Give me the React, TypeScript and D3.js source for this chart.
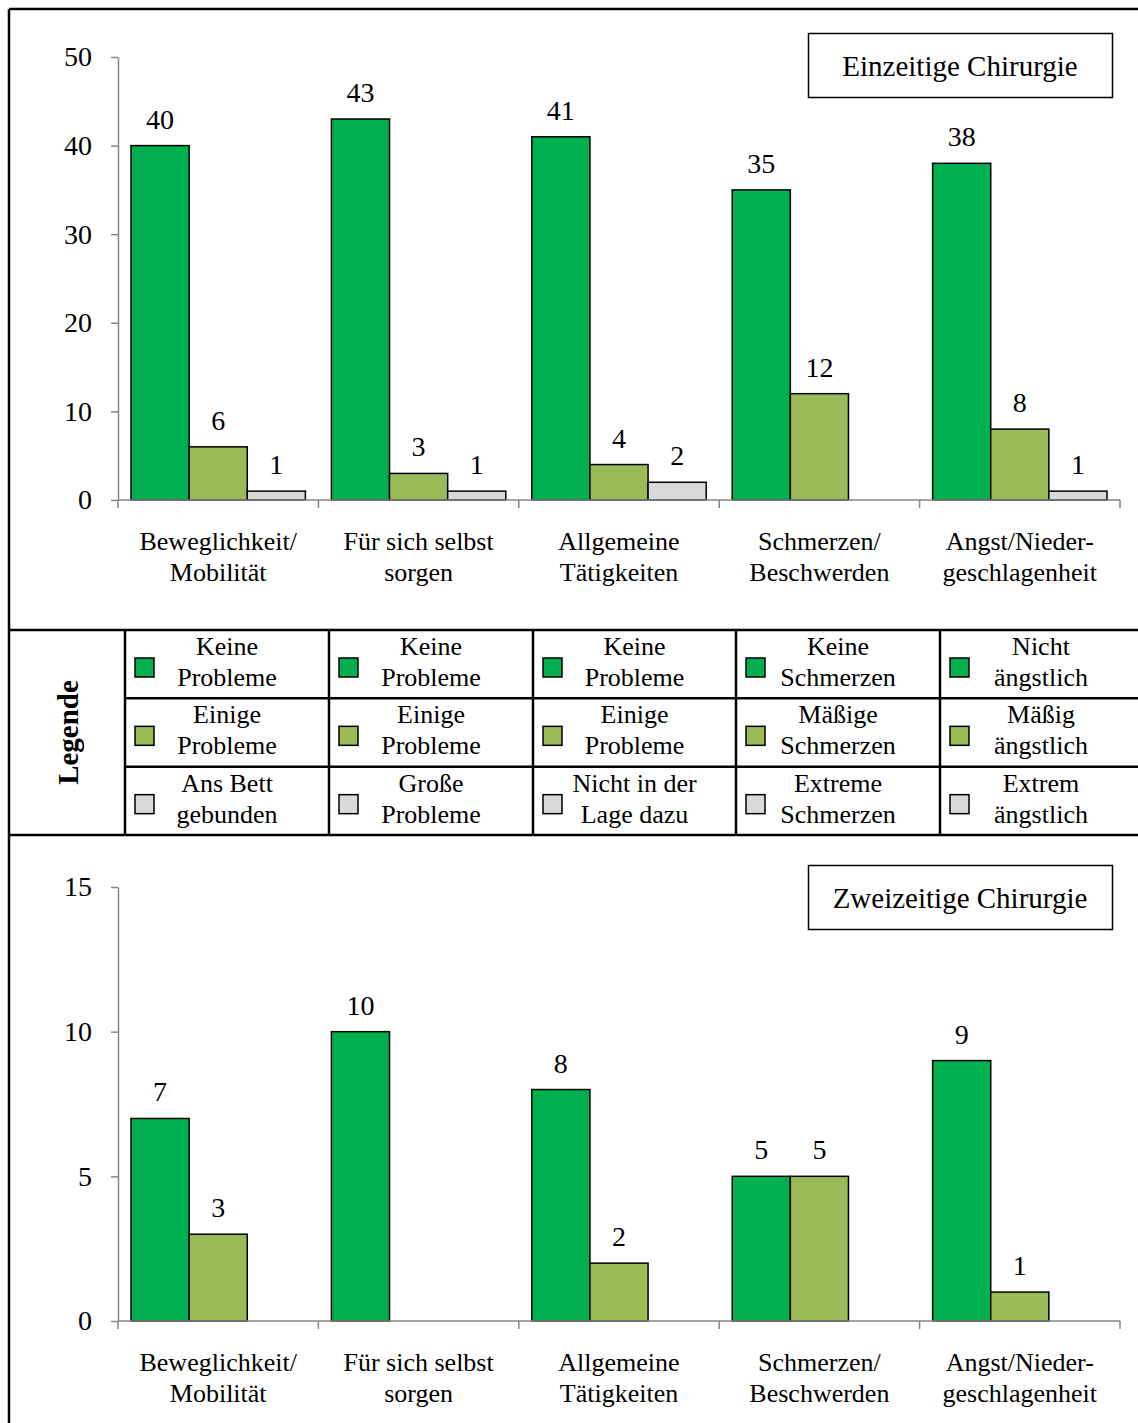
import React, { useEffect, useRef } from "react";
import * as d3 from "d3";

const categories = [
  ["Beweglichkeit/", "Mobilität"],
  ["Für sich selbst", "sorgen"],
  ["Allgemeine", "Tätigkeiten"],
  ["Schmerzen/", "Beschwerden"],
  ["Angst/Nieder-", "geschlagenheit"],
];
const seriesKeys = ["keine", "einige", "extrem"];
const seriesColors = ["#00B050", "#9BBB59", "#D9D9D9"];

// Einzeitige Chirurgie
const topKeine = [40, 43, 41, 35, 38];
const topEinige = [6, 3, 4, 12, 8];
const topExtrem = [1, 1, 2, 0, 1];
const topTicks = [0, 10, 20, 30, 40, 50];

// Zweizeitige Chirurgie
const bottomKeine = [7, 10, 8, 5, 9];
const bottomEinige = [3, 0, 2, 5, 1];
const bottomExtrem = [0, 0, 0, 0, 0];
const bottomTicks = [0, 5, 10, 15];

const legendRows = [
  [["Keine", "Probleme"], ["Keine", "Probleme"], ["Keine", "Probleme"], ["Keine", "Schmerzen"], ["Nicht", "ängstlich"]],
  [["Einige", "Probleme"], ["Einige", "Probleme"], ["Einige", "Probleme"], ["Mäßige", "Schmerzen"], ["Mäßig", "ängstlich"]],
  [["Ans Bett", "gebunden"], ["Große", "Probleme"], ["Nicht in der", "Lage dazu"], ["Extreme", "Schmerzen"], ["Extrem", "ängstlich"]],
];

const W = 1138;
const H = 1423;
const FONT = "'Liberation Serif', 'Times New Roman', serif";
const AXIS = "#868686";

const drawPanel = (svg, opts) => {
  const { values, ticks, yTop, yBottom, title, titleY } = opts;
  const g = svg.append("g");

  const x = d3
    .scaleBand()
    .domain(categories.map((d, i) => i))
    .range([118, 1120]);

  const x1 = d3
    .scaleBand()
    .domain(seriesKeys)
    .range([13, x.bandwidth() - 13]);

  const y = d3
    .scaleLinear()
    .domain([0, d3.max(ticks)])
    .range([yBottom, yTop]);

  // y axis
  const yAxis = d3.axisLeft(y).tickValues(ticks).tickSize(7).tickSizeOuter(0).tickPadding(19);
  const ya = g.append("g").attr("transform", `translate(118,0)`).call(yAxis);
  ya.select(".domain").attr("stroke", AXIS).attr("stroke-width", 1.5);
  ya.selectAll(".tick line").attr("stroke", AXIS).attr("stroke-width", 1.5);
  ya.selectAll(".tick text")
    .attr("fill", "#000")
    .style("font-family", FONT)
    .style("font-size", "28px");

  // bars
  const rows = [];
  values.forEach((arr, s) =>
    arr.forEach((v, c) => rows.push({ c, s, v }))
  );

  g.selectAll("rect.bar")
    .data(rows.filter((d) => d.v > 0))
    .join("rect")
    .attr("class", "bar")
    .attr("x", (d) => x(d.c) + x1(seriesKeys[d.s]))
    .attr("y", (d) => y(d.v))
    .attr("width", x1.bandwidth())
    .attr("height", (d) => y(0) - y(d.v))
    .attr("fill", (d) => seriesColors[d.s])
    .attr("stroke", "#000")
    .attr("stroke-width", 1.5);

  g.selectAll("text.val")
    .data(rows.filter((d) => d.v > 0))
    .join("text")
    .attr("class", "val")
    .attr("x", (d) => x(d.c) + x1(seriesKeys[d.s]) + x1.bandwidth() / 2)
    .attr("y", (d) => y(d.v) - 17)
    .attr("text-anchor", "middle")
    .style("font-family", FONT)
    .style("font-size", "28px")
    .text((d) => d.v);

  // x axis (ticks between categories)
  const bounds = categories.map((d, i) => x(i)).concat([x.range()[1]]);
  g.append("line")
    .attr("x1", x.range()[0])
    .attr("x2", x.range()[1])
    .attr("y1", y(0))
    .attr("y2", y(0))
    .attr("stroke", AXIS)
    .attr("stroke-width", 1.5);
  g.selectAll("line.xt")
    .data(bounds)
    .join("line")
    .attr("class", "xt")
    .attr("x1", (d) => d)
    .attr("x2", (d) => d)
    .attr("y1", y(0))
    .attr("y2", y(0) + 8)
    .attr("stroke", AXIS)
    .attr("stroke-width", 1.5);

  const lab = g
    .selectAll("text.cat")
    .data(categories)
    .join("text")
    .attr("class", "cat")
    .attr("text-anchor", "middle")
    .style("font-family", FONT)
    .style("font-size", "26px");
  lab.each(function (d, i) {
    d3.select(this)
      .selectAll("tspan")
      .data(d)
      .join("tspan")
      .attr("x", x(i) + x.bandwidth() / 2)
      .attr("y", (t, j) => y(0) + 50 + j * 31)
      .text((t) => t);
  });

  // title box
  g.append("rect")
    .attr("x", 808.5)
    .attr("y", titleY)
    .attr("width", 304)
    .attr("height", 64)
    .attr("fill", "#fff")
    .attr("stroke", "#000")
    .attr("stroke-width", 1.5);
  g.append("text")
    .attr("x", 960)
    .attr("y", titleY + 42)
    .attr("text-anchor", "middle")
    .style("font-family", FONT)
    .style("font-size", "29px")
    .text(title);
};

const drawLegend = (svg) => {
  const g = svg.append("g");
  const top = 630;
  const bottom = 835;
  const colBounds = [125, 329, 533, 736, 940, 1142];
  const rowY = d3.scaleBand().domain(legendRows.map((d, i) => i)).range([top, bottom]);

  // grid
  [top, bottom].forEach((yy) =>
    g.append("line").attr("x1", 9).attr("x2", W).attr("y1", yy).attr("y2", yy)
      .attr("stroke", "#000").attr("stroke-width", 2.5)
  );
  [1, 2].forEach((r) =>
    g.append("line").attr("x1", 125).attr("x2", W).attr("y1", rowY(r)).attr("y2", rowY(r))
      .attr("stroke", "#000").attr("stroke-width", 2.5)
  );
  colBounds.slice(0, 5).forEach((xx) =>
    g.append("line").attr("x1", xx).attr("x2", xx).attr("y1", top).attr("y2", bottom)
      .attr("stroke", "#000").attr("stroke-width", 2.5)
  );

  g.append("text")
    .attr("transform", `translate(78, ${(top + bottom) / 2}) rotate(-90)`)
    .attr("text-anchor", "middle")
    .style("font-family", FONT)
    .style("font-size", "29px")
    .style("font-weight", "bold")
    .text("Legende");

  legendRows.forEach((row, r) => {
    row.forEach((cell, c) => {
      const left = colBounds[c];
      const cx = (colBounds[c] + colBounds[c + 1]) / 2;
      const ry = rowY(r);
      g.append("rect")
        .attr("x", left + 10)
        .attr("y", ry + 28)
        .attr("width", 19)
        .attr("height", 19)
        .attr("fill", seriesColors[r])
        .attr("stroke", "#000")
        .attr("stroke-width", 1.5);
      const t = g.append("text")
        .attr("text-anchor", "middle")
        .style("font-family", FONT)
        .style("font-size", "26px");
      cell.forEach((line, j) =>
        t.append("tspan").attr("x", cx).attr("y", ry + 25 + j * 31).text(line)
      );
    });
  });
};

const App = () => {
  const ref = useRef(null);

  useEffect(() => {
    const svg = d3.select(ref.current);
    svg.selectAll("*").remove();

    svg.append("rect").attr("width", W).attr("height", H).attr("fill", "#fff");

    // outer frame (right / bottom cut off)
    svg.append("line").attr("x1", 9).attr("x2", W).attr("y1", 9).attr("y2", 9)
      .attr("stroke", "#000").attr("stroke-width", 2.5);
    svg.append("line").attr("x1", 9).attr("x2", 9).attr("y1", 9).attr("y2", H)
      .attr("stroke", "#000").attr("stroke-width", 2.5);

    drawPanel(svg, {
      values: [topKeine, topEinige, topExtrem],
      ticks: topTicks,
      yTop: 57,
      yBottom: 500,
      title: "Einzeitige Chirurgie",
      titleY: 33.5,
    });

    drawLegend(svg);

    drawPanel(svg, {
      values: [bottomKeine, bottomEinige, bottomExtrem],
      ticks: bottomTicks,
      yTop: 887,
      yBottom: 1321,
      title: "Zweizeitige Chirurgie",
      titleY: 865.5,
    });
  }, []);

  return (
    <svg
      ref={ref}
      width={W}
      height={H}
      style={{ position: "absolute", left: 0, top: 0, display: "block" }}
    />
  );
};

export default App;
